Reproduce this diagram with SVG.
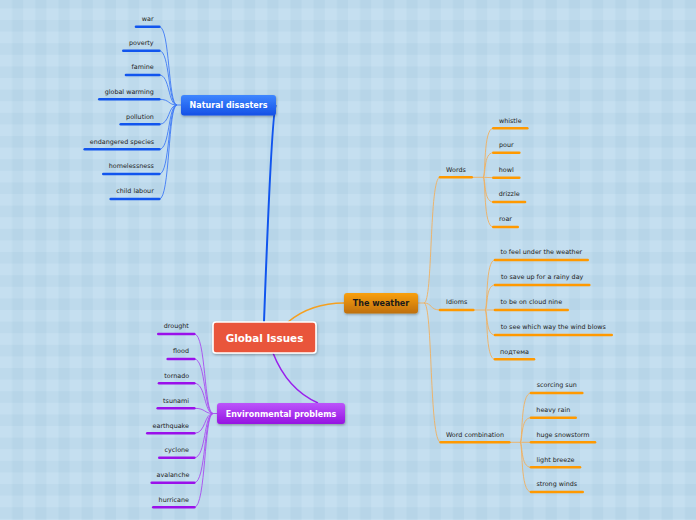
<svg xmlns="http://www.w3.org/2000/svg" width="696" height="520" viewBox="0 0 696 520">
<defs>
<pattern id="plaid" x="0" y="20" width="23.2" height="23.2" patternUnits="userSpaceOnUse">
<rect width="23.2" height="23.2" fill="#c5dff0"/>
<rect x="12" y="0" width="11.6" height="23.2" fill="#6a90b8" fill-opacity="0.08"/>
<rect x="0" y="0" width="23.2" height="11.6" fill="#6a90b8" fill-opacity="0.08"/>
</pattern>
<linearGradient id="gBlue" x1="0" y1="0" x2="0" y2="1"><stop offset="0" stop-color="#3d86ff"/><stop offset="1" stop-color="#1550e6"/></linearGradient>
<linearGradient id="gPurple" x1="0" y1="0" x2="0" y2="1"><stop offset="0" stop-color="#bb55fa"/><stop offset="1" stop-color="#9614e2"/></linearGradient>
<linearGradient id="gOrange" x1="0" y1="0" x2="0" y2="1"><stop offset="0" stop-color="#f9a010"/><stop offset="1" stop-color="#bf6f0a"/></linearGradient>
<filter id="sh" x="-10%" y="-20%" width="120%" height="150%"><feDropShadow dx="0.5" dy="1.2" stdDeviation="0.8" flood-color="#000" flood-opacity="0.3"/></filter>
</defs>
<style>
.lbl{font-family:"DejaVu Sans",Verdana,sans-serif;font-size:6.4px;fill:#222;text-anchor:middle}
.ttl{font-family:"DejaVu Sans",Verdana,sans-serif;font-weight:bold;font-size:8px;text-anchor:middle}
.bb{stroke:#1155ee;stroke-width:2.6;stroke-linecap:round}
.pb{stroke:#9a10ea;stroke-width:2.6;stroke-linecap:round}
.ob{stroke:#ff9900;stroke-width:2.6;stroke-linecap:round}
.bc{fill:none;stroke:#3f7af5;stroke-width:0.9}
.pc{fill:none;stroke:#a84cf0;stroke-width:0.9}
.oc{fill:none;stroke:#f0b060;stroke-width:0.9}
</style>
<rect width="696" height="520" fill="url(#plaid)"/>

<g id="connectors">
<path d="M276,105 C272,110 267,240 264,322" fill="none" stroke="#1155ee" stroke-width="2"/>
<path d="M273,353 C284,381 300,395 318,403" fill="none" stroke="#9a20ec" stroke-width="1.5"/>
<path d="M288,322 C300,312 318,303 344,303" fill="none" stroke="#f5a020" stroke-width="1.5"/>
<g class="bc">
<path d="M181,105 L177,105 C168,105 170,26.7 159.3,26.7"/>
<path d="M177,105 C168,105 170,50.7 159.3,50.7"/>
<path d="M177,105 C168,105 170,75 159.3,75"/>
<path d="M177,105 C168,105 170,99.3 159.3,99.3"/>
<path d="M177,105 C168,105 170,124.3 159.3,124.3"/>
<path d="M177,105 C168,105 170,149.3 159.3,149.3"/>
<path d="M177,105 C168,105 170,174 159.3,174"/>
<path d="M177,105 C168,105 170,199 159.3,199"/>
</g>
<g class="pc">
<path d="M217,413.5 L213,413.5 C204,413.5 206,334 194.3,334"/>
<path d="M213,413.5 C204,413.5 206,359 194.3,359"/>
<path d="M213,413.5 C204,413.5 206,383.3 194.3,383.3"/>
<path d="M213,413.5 C204,413.5 206,408.3 194.3,408.3"/>
<path d="M213,413.5 C204,413.5 206,433.3 194.3,433.3"/>
<path d="M213,413.5 C204,413.5 206,457.7 194.3,457.7"/>
<path d="M213,413.5 C204,413.5 206,482.7 194.3,482.7"/>
<path d="M213,413.5 C204,413.5 206,507.3 194.3,507.3"/>
</g>
<g class="oc">
<path d="M418,303 L424,303 C433,303 429,177.3 440,177.3"/>
<path d="M424,303 C432,303 430,310 440,310"/>
<path d="M424,303 C433,303 429,442.3 440.7,442.3"/>
<path d="M472,177.3 L483,177.3"/>
<path d="M483,177.3 C486,177.3 483,128.3 493.3,128.3"/>
<path d="M483,177.3 C486,177.3 483,152.7 493.3,152.7"/>
<path d="M483,177.3 L493.3,177.7"/>
<path d="M483,177.3 C486,177.3 483,202 493.3,202"/>
<path d="M483,177.3 C486,177.3 483,227 493.3,227"/>
<path d="M473.3,310 L485,310"/>
<path d="M485,310 C488,310 485,260 495,260"/>
<path d="M485,310 C488,310 485,285 495,285"/>
<path d="M485,310 L495,310"/>
<path d="M485,310 C488,310 485,335 495,335"/>
<path d="M485,310 C488,310 485,359.3 495,359.3"/>
<path d="M509.3,442.3 L520,442.3"/>
<path d="M520,442.3 C523,442.3 520,393 531,393"/>
<path d="M520,442.3 C523,442.3 520,417.7 531,417.7"/>
<path d="M520,442.3 L531,442.3"/>
<path d="M520,442.3 C523,442.3 520,467.3 531,467.3"/>
<path d="M520,442.3 C523,442.3 520,492 531,492"/>
</g>
</g>

<g id="global-issues">
<rect x="213" y="322" width="103" height="31" rx="3" fill="#e9553b" stroke="#ffffff" stroke-width="1.6" filter="url(#sh)"/>
<text x="264.5" y="341.8" class="ttl" style="font-size:10.4px" fill="#ffffff">Global Issues</text>
</g>

<g id="natural-disasters">
<rect x="181" y="95" width="95" height="20.5" rx="3" fill="url(#gBlue)" filter="url(#sh)"/>
<text x="228.5" y="108" class="ttl" fill="#ffffff">Natural disasters</text>
</g>
<g id="nd-war"><line x1="136" y1="26.7" x2="159.3" y2="26.7" class="bb"/><text x="147.7" y="21" class="lbl">war</text></g>
<g id="nd-poverty"><line x1="123.3" y1="50.7" x2="159.3" y2="50.7" class="bb"/><text x="141.3" y="45" class="lbl">poverty</text></g>
<g id="nd-famine"><line x1="126" y1="75" x2="159.3" y2="75" class="bb"/><text x="142.7" y="69.3" class="lbl">famine</text></g>
<g id="nd-global-warming"><line x1="99.3" y1="99.3" x2="159.3" y2="99.3" class="bb"/><text x="129.3" y="93.6" class="lbl">global warming</text></g>
<g id="nd-pollution"><line x1="120.7" y1="124.3" x2="159.3" y2="124.3" class="bb"/><text x="140" y="118.6" class="lbl">pollution</text></g>
<g id="nd-endangered"><line x1="84.7" y1="149.3" x2="159.3" y2="149.3" class="bb"/><text x="122" y="143.6" class="lbl">endangered species</text></g>
<g id="nd-homelessness"><line x1="103.3" y1="174" x2="159.3" y2="174" class="bb"/><text x="131.3" y="168.3" class="lbl">homelessness</text></g>
<g id="nd-child-labour"><line x1="110.7" y1="199" x2="159.3" y2="199" class="bb"/><text x="135" y="193.3" class="lbl">child labour</text></g>

<g id="environmental-problems">
<rect x="217" y="403" width="128" height="21" rx="3" fill="url(#gPurple)" filter="url(#sh)"/>
<text x="281" y="416.8" class="ttl" fill="#ffffff">Environmental problems</text>
</g>
<g id="ep-drought"><line x1="158.3" y1="334" x2="194.3" y2="334" class="pb"/><text x="176.3" y="328.3" class="lbl">drought</text></g>
<g id="ep-flood"><line x1="167.7" y1="359" x2="194.3" y2="359" class="pb"/><text x="181" y="353.3" class="lbl">flood</text></g>
<g id="ep-tornado"><line x1="159" y1="383.3" x2="194.3" y2="383.3" class="pb"/><text x="176.7" y="377.6" class="lbl">tornado</text></g>
<g id="ep-tsunami"><line x1="157.7" y1="408.3" x2="194.3" y2="408.3" class="pb"/><text x="176" y="402.6" class="lbl">tsunami</text></g>
<g id="ep-earthquake"><line x1="147.3" y1="433.3" x2="194.3" y2="433.3" class="pb"/><text x="170.8" y="427.6" class="lbl">earthquake</text></g>
<g id="ep-cyclone"><line x1="159.3" y1="457.7" x2="194.3" y2="457.7" class="pb"/><text x="176.8" y="452" class="lbl">cyclone</text></g>
<g id="ep-avalanche"><line x1="151.7" y1="482.7" x2="194.3" y2="482.7" class="pb"/><text x="173" y="477" class="lbl">avalanche</text></g>
<g id="ep-hurricane"><line x1="153.3" y1="507.3" x2="194.3" y2="507.3" class="pb"/><text x="173.8" y="501.6" class="lbl">hurricane</text></g>

<g id="the-weather">
<rect x="344" y="293" width="74" height="20.5" rx="3" fill="url(#gOrange)" filter="url(#sh)"/>
<text x="381" y="306" class="ttl" fill="#1a1a1a">The weather</text>
</g>
<g id="w-words"><line x1="440" y1="177.3" x2="471.7" y2="177.3" class="ob"/><text x="456" y="171.6" class="lbl">Words</text></g>
<g id="w-whistle"><line x1="493.3" y1="128.3" x2="527.3" y2="128.3" class="ob"/><text x="510.3" y="122.6" class="lbl">whistle</text></g>
<g id="w-pour"><line x1="493.3" y1="152.7" x2="519.3" y2="152.7" class="ob"/><text x="506.3" y="147" class="lbl">pour</text></g>
<g id="w-howl"><line x1="493.3" y1="177.7" x2="519.3" y2="177.7" class="ob"/><text x="506.3" y="172" class="lbl">howl</text></g>
<g id="w-drizzle"><line x1="493.3" y1="202" x2="525" y2="202" class="ob"/><text x="509.2" y="196.3" class="lbl">drizzle</text></g>
<g id="w-roar"><line x1="493.3" y1="227" x2="517.7" y2="227" class="ob"/><text x="505.5" y="221.3" class="lbl">roar</text></g>

<g id="w-idioms"><line x1="440" y1="310" x2="473.3" y2="310" class="ob"/><text x="456.7" y="304.3" class="lbl">Idioms</text></g>
<g id="i-feel"><line x1="495" y1="260" x2="587.7" y2="260" class="ob"/><text x="541.3" y="254.3" class="lbl">to feel under the weather</text></g>
<g id="i-save"><line x1="495" y1="285" x2="589.3" y2="285" class="ob"/><text x="542.2" y="279.3" class="lbl">to save up for a rainy day</text></g>
<g id="i-cloud"><line x1="495" y1="310" x2="567.7" y2="310" class="ob"/><text x="531.3" y="304.3" class="lbl">to be on cloud nine</text></g>
<g id="i-wind"><line x1="495" y1="335" x2="611.7" y2="335" class="ob"/><text x="553.3" y="329.3" class="lbl">to see which way the wind blows</text></g>
<g id="i-podtema"><line x1="495" y1="359.3" x2="534" y2="359.3" class="ob"/><text x="514.5" y="353.6" class="lbl">подтема</text></g>

<g id="w-word-combination"><line x1="440.7" y1="442.3" x2="509.3" y2="442.3" class="ob"/><text x="475" y="436.6" class="lbl">Word combination</text></g>
<g id="c-scorcing"><line x1="531" y1="393" x2="582.3" y2="393" class="ob"/><text x="556.7" y="387.3" class="lbl">scorcing sun</text></g>
<g id="c-heavy-rain"><line x1="531" y1="417.7" x2="575.7" y2="417.7" class="ob"/><text x="553.3" y="412" class="lbl">heavy rain</text></g>
<g id="c-snowstorm"><line x1="531" y1="442.3" x2="595" y2="442.3" class="ob"/><text x="563" y="436.6" class="lbl">huge snowstorm</text></g>
<g id="c-breeze"><line x1="531" y1="467.3" x2="580" y2="467.3" class="ob"/><text x="555.5" y="461.6" class="lbl">light breeze</text></g>
<g id="c-strong-winds"><line x1="531" y1="492" x2="582.7" y2="492" class="ob"/><text x="556.8" y="486.3" class="lbl">strong winds</text></g>
</svg>
